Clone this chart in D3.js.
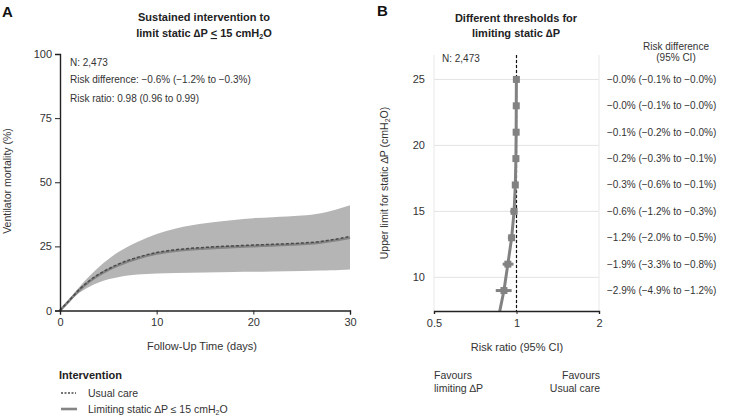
<!DOCTYPE html>
<html>
<head>
<meta charset="utf-8">
<script src="https://cdn.jsdelivr.net/npm/d3@7"></script>
<style>
  html, body { margin: 0; padding: 0; background: #fff; }
  svg { display: block; font-family: "Liberation Sans", Arial, Helvetica, sans-serif; }
</style>
</head>
<body>
<svg id="chart" width="729" height="418"></svg>
<script>
// ---------- Panel A data (cumulative ventilator mortality, %) ----------
const days        = [0, 1, 2, 3, 4, 5, 6, 7, 8, 10, 12, 15, 18, 20, 22, 25, 27, 28, 29, 30];
const limitingMean= [0, 4.0, 8.0, 11.2, 13.8, 15.9, 17.6, 19.1, 20.3, 22.2, 23.3, 24.2, 24.8, 25.1, 25.4, 25.9, 26.5, 27.1, 27.7, 28.4];
const usualMean   = [0, 4.1, 8.2, 11.5, 14.1, 16.2, 18.0, 19.5, 20.7, 22.6, 23.7, 24.6, 25.2, 25.5, 25.8, 26.3, 26.9, 27.5, 28.1, 28.9];
const bandUpper   = [0, 4.6, 9.2, 13.3, 16.9, 20.0, 22.7, 24.9, 26.7, 29.8, 32.0, 34.0, 35.3, 36.0, 36.4, 37.0, 37.9, 38.8, 39.9, 41.0];
const bandLower   = [0, 3.5, 6.9, 9.2, 10.9, 12.2, 13.0, 13.6, 14.0, 14.4, 14.6, 14.8, 15.0, 15.1, 15.2, 15.4, 15.6, 15.7, 15.8, 16.0];
const xTicksA = [0, 10, 20, 30];
const yTicksA = [0, 25, 50, 75, 100];

// ---------- Panel B data (risk ratio by threshold) ----------
const thresholds = [7, 9, 11, 13, 15, 17, 19, 21, 23, 25];
const riskRatio  = [0.86, 0.90, 0.93, 0.96, 0.98, 0.99, 0.995, 0.997, 0.998, 0.999];
const rrLower    = [0.78, 0.84, 0.89, 0.93, 0.95, 0.975, 0.985, 0.99, 0.993, 0.995];
const rrUpper    = [0.94, 0.96, 0.975, 0.985, 0.994, 0.998, 0.999, 1.0, 1.0, 1.0];
const rdLabels   = ["",
  "\u22122.9% (\u22124.9% to \u22121.2%)",
  "\u22121.9% (\u22123.3% to \u22120.8%)",
  "\u22121.2% (\u22122.0% to \u22120.5%)",
  "\u22120.6% (\u22121.2% to \u22120.3%)",
  "\u22120.3% (\u22120.6% to \u22120.1%)",
  "\u22120.2% (\u22120.3% to \u22120.1%)",
  "\u22120.1% (\u22120.2% to \u22120.0%)",
  "\u22120.0% (\u22120.1% to \u22120.0%)",
  "\u22120.0% (\u22120.1% to \u22120.0%)"];
const xTicksB = [0.5, 1, 2];
const yTicksB = [10, 15, 20, 25];

const svg = d3.select("#chart");
const txt = "#333";

// =================== PANEL A ===================
const xA = d3.scaleLinear().domain([0, 30]).range([60, 350]);
const yA = d3.scaleLinear().domain([0, 100]).range([310.5, 54]);

const seriesA = days.map((d, i) => ({d, lm: limitingMean[i], um: usualMean[i], up: bandUpper[i], lo: bandLower[i]}));

svg.append("path").datum(seriesA)
  .attr("fill", "#b5b5b5")
  .attr("d", d3.area().curve(d3.curveMonotoneX).x(p => xA(p.d)).y0(p => yA(p.lo)).y1(p => yA(p.up)));

svg.append("path").datum(seriesA)
  .attr("fill", "none").attr("stroke", "#858585").attr("stroke-width", 2.6)
  .attr("d", d3.line().curve(d3.curveMonotoneX).x(p => xA(p.d)).y(p => yA(p.lm)));

svg.append("path").datum(seriesA)
  .attr("fill", "none").attr("stroke", "#4a4a4a").attr("stroke-width", 1.5)
  .attr("stroke-dasharray", "3,2")
  .attr("d", d3.line().curve(d3.curveMonotoneX).x(p => xA(p.d)).y(p => yA(p.um)));

const axA_y = svg.append("g").attr("transform", "translate(60,0)")
  .call(d3.axisLeft(yA).tickValues(yTicksA).tickSize(5).tickPadding(3).tickFormat(d3.format("d")));
const axA_x = svg.append("g").attr("transform", "translate(0,310.5)")
  .call(d3.axisBottom(xA).tickValues(xTicksA).tickSize(4).tickPadding(4).tickFormat(d3.format("d")));
[axA_y, axA_x].forEach(g => {
  g.select(".domain").attr("stroke", "#222").attr("stroke-width", 1.4);
  g.selectAll(".tick line").attr("stroke", "#222");
  g.selectAll(".tick text").attr("fill", txt).style("font-size", "11px").style("font-family", "Liberation Sans, Arial, sans-serif");
});

svg.append("text").attr("x", 2).attr("y", 17).text("A")
  .attr("font-weight", "bold").attr("font-size", 15).attr("fill", "#111");

const titleA = svg.append("text").attr("text-anchor", "middle").attr("font-weight", "bold")
  .attr("font-size", 11).attr("fill", "#222");
titleA.append("tspan").attr("x", 204).attr("y", 21).text("Sustained intervention to");
const tA2 = titleA.append("tspan").attr("x", 204).attr("y", 37);
tA2.append("tspan").text("limit static \u2206P ");
tA2.append("tspan").attr("text-decoration", "underline").text("<");
tA2.append("tspan").text(" 15 cmH");
tA2.append("tspan").attr("font-size", 7).attr("dy", 2).text("2");
tA2.append("tspan").attr("dy", -2).text("O");

const infoA = ["N: 2,473", "Risk difference: \u22120.6% (\u22121.2% to \u22120.3%)", "Risk ratio: 0.98 (0.96 to 0.99)"];
const infoY = [62, 79.5, 98];
infoA.forEach((t, i) => svg.append("text").attr("x", 70).attr("y", infoY[i]).attr("dy", "0.35em")
  .attr("font-size", 10).attr("fill", txt).text(t));

svg.append("text").attr("transform", "translate(11,181) rotate(-90)").attr("text-anchor", "middle")
  .attr("font-size", 10.5).attr("fill", txt).text("Ventilator mortality (%)");
svg.append("text").attr("x", 202).attr("y", 346).attr("dy", "0.35em").attr("text-anchor", "middle")
  .attr("font-size", 11).attr("fill", txt).text("Follow-Up Time (days)");

// Legend
svg.append("text").attr("x", 59).attr("y", 375).attr("dy", "0.35em").attr("font-weight", "bold")
  .attr("font-size", 11).attr("fill", "#222").text("Intervention");
svg.append("line").attr("x1", 61).attr("x2", 76).attr("y1", 393).attr("y2", 393)
  .attr("stroke", "#4a4a4a").attr("stroke-width", 1.5).attr("stroke-dasharray", "2,1.5");
svg.append("text").attr("x", 88).attr("y", 393).attr("dy", "0.35em").attr("font-size", 10.5)
  .attr("fill", txt).text("Usual care");
svg.append("line").attr("x1", 61).attr("x2", 77).attr("y1", 409).attr("y2", 409)
  .attr("stroke", "#858585").attr("stroke-width", 2.6);
const lg2 = svg.append("text").attr("x", 88).attr("y", 409).attr("dy", "0.35em").attr("font-size", 10.5).attr("fill", txt);
lg2.append("tspan").text("Limiting static \u2206P \u2264 15 cmH");
lg2.append("tspan").attr("font-size", 7).attr("dy", 2).text("2");
lg2.append("tspan").attr("dy", -2).text("O");

// =================== PANEL B ===================
const xB = d3.scaleLog().domain([0.5, 2]).range([434, 599]);
const yB = d3.scaleLinear().domain([7.45, 26.85]).range([311, 55]);

svg.append("defs").append("clipPath").attr("id", "clipB")
  .append("rect").attr("x", 434).attr("y", 55).attr("width", 165).attr("height", 256);

const gridB = svg.append("g");
yTicksB.forEach(v => gridB.append("line").attr("x1", 434).attr("x2", 599).attr("y1", yB(v)).attr("y2", yB(v))
  .attr("stroke", "#e3e3e3").attr("stroke-width", 1));
xTicksB.forEach(v => gridB.append("line").attr("x1", xB(v)).attr("x2", xB(v)).attr("y1", 55).attr("y2", 311)
  .attr("stroke", "#e8e8e8").attr("stroke-width", 1));

svg.append("line").attr("x1", xB(1)).attr("x2", xB(1)).attr("y1", 55).attr("y2", 311)
  .attr("stroke", "#111").attr("stroke-width", 1.2).attr("stroke-dasharray", "3,2");

const seriesB = thresholds.map((t, i) => ({t, rr: riskRatio[i], lo: rrLower[i], hi: rrUpper[i], rd: rdLabels[i]}));
const plotB = svg.append("g").attr("clip-path", "url(#clipB)");
plotB.append("path").datum(seriesB)
  .attr("fill", "none").attr("stroke", "#828282").attr("stroke-width", 3)
  .attr("d", d3.line().x(p => xB(p.rr)).y(p => yB(p.t)));
plotB.selectAll(".eb").data(seriesB).join("line").attr("class", "eb")
  .attr("x1", p => xB(p.lo)).attr("x2", p => xB(p.hi))
  .attr("y1", p => yB(p.t)).attr("y2", p => yB(p.t))
  .attr("stroke", "#828282").attr("stroke-width", 3);
plotB.selectAll(".pt").data(seriesB).join("rect").attr("class", "pt")
  .attr("x", p => xB(p.rr) - 3.5).attr("y", p => yB(p.t) - 3.5)
  .attr("width", 7).attr("height", 7).attr("fill", "#828282");

const axB_x = svg.append("g").attr("transform", "translate(0,311)")
  .call(d3.axisBottom(xB).tickValues(xTicksB).tickSize(3).tickPadding(5).tickFormat(d => String(d)));
axB_x.select(".domain").attr("stroke", "#222").attr("stroke-width", 1.4);
axB_x.selectAll(".tick line").attr("stroke", "#222");
axB_x.selectAll(".tick text").attr("fill", txt).style("font-size", "11px").style("font-family", "Liberation Sans, Arial, sans-serif");

const axB_y = svg.append("g").attr("transform", "translate(434,0)")
  .call(d3.axisLeft(yB).tickValues(yTicksB).tickSize(0).tickPadding(9).tickFormat(d3.format("d")));
axB_y.select(".domain").remove();
axB_y.selectAll(".tick text").attr("fill", txt).style("font-size", "11px").style("font-family", "Liberation Sans, Arial, sans-serif");

svg.append("text").attr("x", 377).attr("y", 16).text("B")
  .attr("font-weight", "bold").attr("font-size", 15).attr("fill", "#111");
const titleB = svg.append("text").attr("text-anchor", "middle").attr("font-weight", "bold")
  .attr("font-size", 11).attr("fill", "#222");
titleB.append("tspan").attr("x", 516).attr("y", 22).text("Different thresholds for");
titleB.append("tspan").attr("x", 516).attr("y", 37).text("limiting static \u2206P");

svg.append("text").attr("x", 442).attr("y", 58).attr("dy", "0.35em").attr("font-size", 10)
  .attr("fill", txt).text("N: 2,473");

svg.append("text").attr("x", 676).attr("y", 46).attr("dy", "0.35em").attr("text-anchor", "middle")
  .attr("font-size", 10).attr("fill", txt).text("Risk difference");
svg.append("text").attr("x", 676).attr("y", 57.5).attr("dy", "0.35em").attr("text-anchor", "middle")
  .attr("font-size", 10).attr("fill", txt).text("(95% CI)");

svg.selectAll(".rd").data(seriesB.filter(p => p.t >= yB.domain()[0] && p.rd)).join("text").attr("class", "rd")
  .attr("x", 607).attr("y", p => yB(p.t)).attr("dy", "0.35em")
  .attr("font-size", 10).attr("fill", txt).text(p => p.rd);

const ylB = svg.append("text").attr("transform", "translate(388,183) rotate(-90)").attr("text-anchor", "middle")
  .attr("font-size", 10.5).attr("fill", txt);
ylB.append("tspan").text("Upper limit for static \u2206P (cmH");
ylB.append("tspan").attr("font-size", 7).attr("dy", 2).text("2");
ylB.append("tspan").attr("dy", -2).text("O)");

svg.append("text").attr("x", 517).attr("y", 347).attr("dy", "0.35em").attr("text-anchor", "middle")
  .attr("font-size", 11).attr("fill", txt).text("Risk ratio (95% CI)");
svg.append("text").attr("x", 434).attr("y", 375).attr("dy", "0.35em").attr("font-size", 10.5).attr("fill", txt).text("Favours");
svg.append("text").attr("x", 434).attr("y", 388).attr("dy", "0.35em").attr("font-size", 10.5).attr("fill", txt).text("limiting \u2206P");
svg.append("text").attr("x", 600).attr("y", 375).attr("dy", "0.35em").attr("text-anchor", "end").attr("font-size", 10.5).attr("fill", txt).text("Favours");
svg.append("text").attr("x", 600).attr("y", 388).attr("dy", "0.35em").attr("text-anchor", "end").attr("font-size", 10.5).attr("fill", txt).text("Usual care");
</script>
</body>
</html>
